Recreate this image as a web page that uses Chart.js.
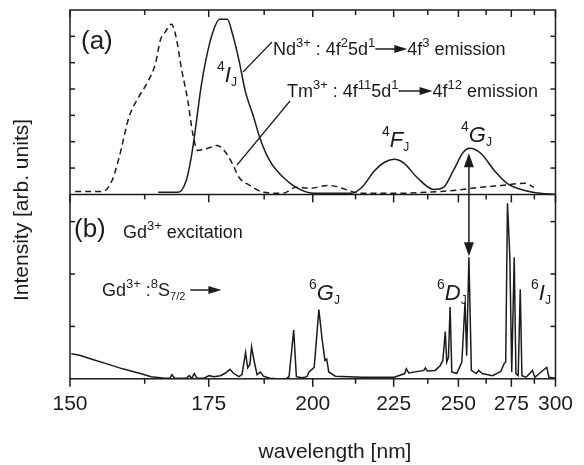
<!DOCTYPE html>
<html>
<head>
<meta charset="utf-8">
<script src="https://cdn.jsdelivr.net/npm/chart.js@4/dist/chart.umd.min.js"></script>
<style>
  html, body { margin: 0; padding: 0; background: #fff; }
  canvas { display: block; }
</style>
</head>
<body>
<canvas id="c" width="584" height="465"></canvas>
<script>
// x axis (wavelength, nm) - the axis is linear in photon energy (1/lambda)
const xTicks = [150, 175, 200, 225, 250, 275, 300];
const xMinorTicks = [162.5, 187.5, 212.5, 237.5, 262.5, 287.5];

// (a) Tm3+ 4f11 5d -> 4f12 emission (dashed)
const tmWl  = [150.8, 155.2, 156.8, 158.0, 159.7, 161.4, 162.9, 164.5, 165.4, 166.3, 167.5, 168.4, 169.4, 170.7, 171.7, 172.7, 174.8, 176.8, 178.3, 180.1, 181.6, 184.1, 187.4, 192.2, 195.5, 198.9, 204.4, 214.5, 225.2, 237.2, 247.9, 260.0, 270.0, 282.2, 287.2];
const tmInt = [0.11, 0.11, 0.53, 1.41, 2.93, 3.69, 4.22, 4.98, 5.86, 6.16, 6.46, 5.97, 4.83, 3.57, 2.32, 1.67, 1.75, 1.86, 1.67, 1.18, 0.65, 0.34, 0.08, 0.04, 0.27, 0.23, 0.34, 0.04, 0.04, 0.08, 0.15, 0.27, 0.34, 0.42, 0.27];

// (a) Nd3+ 4f2 5d -> 4f3 emission (solid)
const ndWl  = [165.0, 168.8, 170.4, 171.4, 172.3, 173.4, 174.4, 175.8, 177.3, 179.0, 180.1, 181.6, 183.0, 185.0, 186.4, 188.8, 192.2, 195.5, 200.5, 204.4, 211.1, 214.5, 218.6, 221.9, 225.2, 228.7, 233.4, 239.8, 243.8, 247.9, 252.1, 255.0, 260.0, 266.4, 272.8, 282.2, 290.8, 300];
const ndInt = [0.08, 0.08, 0.53, 1.41, 2.55, 4.07, 5.10, 6.12, 6.65, 6.65, 6.12, 5.10, 3.95, 2.93, 2.17, 1.29, 0.65, 0.27, 0.04, 0.04, 0.04, 0.27, 0.91, 1.22, 1.33, 1.18, 0.65, 0.19, 0.27, 0.91, 1.60, 1.75, 1.56, 0.91, 0.42, 0.15, 0.04, 0.0];

// (b) Gd3+ excitation spectrum
const gdWl  = [150.2, 151.5, 153.6, 155.8, 158.6, 161.4, 163.7, 166.2, 167.2, 167.6, 168.1, 170.4, 171.0, 171.5, 172.0, 172.6, 174.0, 175.1, 176.1, 177.5, 178.6, 179.6, 180.3, 181.6, 182.3, 183.1, 183.6, 184.1, 184.5, 185.1, 185.8, 186.6, 187.3, 188.9, 190.5, 192.9, 193.7, 194.9, 195.6, 197.1, 198.4, 199.0, 200.4, 201.7, 202.6, 203.4, 203.9, 204.5, 206.4, 214.4, 225.2, 228.9, 229.5, 230.4, 236.0, 236.6, 237.4, 240.4, 242.4, 243.5, 244.5, 245.1, 245.8, 246.5, 247.2, 249.3, 251.5, 252.9, 253.6, 254.6, 255.7, 257.9, 259.1, 260.6, 265.6, 269.6, 271.3, 272.1, 273.0, 274.2, 275.2, 276.5, 277.4, 278.6, 279.7, 280.6, 282.9, 286.4, 287.8, 294.7, 296.0, 300];
const gdInt = [0.48, 0.45, 0.37, 0.29, 0.19, 0.11, 0.04, 0.01, 0.01, 0.08, 0.01, 0.01, 0.06, 0.01, 0.10, 0.01, 0.01, 0.06, 0.04, 0.06, 0.11, 0.18, 0.11, 0.04, 0.08, 0.50, 0.21, 0.27, 0.61, 0.34, 0.08, 0.13, 0.05, 0.01, 0.0, 0.0, 0.04, 0.93, 0.04, 0.02, 0.04, 0.13, 0.22, 1.32, 0.76, 0.35, 0.38, 0.13, 0.05, 0.03, 0.03, 0.10, 0.19, 0.11, 0.16, 0.21, 0.15, 0.16, 0.25, 0.35, 0.90, 0.32, 0.41, 1.37, 0.13, 0.10, 0.32, 1.47, 0.44, 2.32, 0.16, 0.10, 0.16, 0.10, 0.06, 0.14, 0.29, 0.32, 3.35, 2.35, 0.13, 2.32, 0.10, 0.06, 1.71, 0.06, 0.03, 0.16, 0.03, 0.22, 0.03, 0.01];

// transition marked with the double arrow (nm), and where its heads sit
const arrowWl = 254.6;
const arrowTopA = 1.56;
const arrowTipB = 2.34;

const INK = '#1c1c1c';
const FONT = '"Liberation Sans", Arial, Helvetica, sans-serif';

// wavelength axis that is linear in 1/lambda
class ReciprocalScale extends Chart.LinearScale {
    getPixelForValue(value) {
        const a = 1 / this.min, b = 1 / this.max;
        return this.getPixelForDecimal((a - 1 / value) / (a - b));
    }
    getValueForPixel(pixel) {
        const a = 1 / this.min, b = 1 / this.max;
        return 1 / (a - this.getDecimalForPixel(pixel) * (a - b));
    }
}
ReciprocalScale.id = 'reciprocal';
ReciprocalScale.defaults = Chart.LinearScale.defaults;
Chart.register(ReciprocalScale);

const pts = (xs, ys) => xs.map((x, i) => ({ x: x, y: ys[i] }));

// text pieces: normal, superscript, subscript, italic, arrow
const N = t => ({ t: t, f: 18, dy: 0 });
const S = t => ({ t: t, f: 13, dy: -8 });
const B = t => ({ t: t, f: 11, dy: 4 });
const I = t => ({ t: t, f: 22, dy: 0, it: true });
const S2 = t => ({ t: t, f: 14, dy: -11 });
const B2 = t => ({ t: t, f: 12, dy: 4 });
const A = len => ({ arrow: len, dy: -6 });

function arrowHead(ctx, x, y, dx, dy, len, half) {
    // tip at (x,y), pointing along (dx,dy)
    ctx.beginPath();
    ctx.moveTo(x, y);
    ctx.lineTo(x - dx * len - dy * half, y - dy * len + dx * half);
    ctx.lineTo(x - dx * len + dy * half, y - dy * len - dx * half);
    ctx.closePath();
    ctx.fill();
}

function rich(ctx, x, y, parts) {
    for (const p of parts) {
        if (p.arrow) {
            const yy = y + p.dy;
            ctx.lineWidth = 1.5;
            ctx.beginPath(); ctx.moveTo(x, yy); ctx.lineTo(x + p.arrow - 8, yy); ctx.stroke();
            arrowHead(ctx, x + p.arrow, yy, 1, 0, 13, 4);
            x += p.arrow;
            continue;
        }
        ctx.font = (p.it ? 'italic ' : '') + p.f + 'px ' + FONT;
        ctx.fillText(p.t, x, y + p.dy);
        x += ctx.measureText(p.t).width;
    }
}

function seg(ctx, x1, y1, x2, y2) {
    ctx.beginPath(); ctx.moveTo(x1, y1); ctx.lineTo(x2, y2); ctx.stroke();
}

const framePlugin = {
    id: 'frame',
    afterDatasetsDraw(chart) {
        const { ctx, chartArea: ca } = chart;
        const { x, ya, yb } = chart.scales;
        const mid = ya.bottom;
        ctx.save();
        ctx.strokeStyle = INK;
        ctx.fillStyle = INK;
        ctx.lineWidth = 1.5;

        // frame of both panels
        ctx.strokeRect(ca.left, ca.top, ca.right - ca.left, ca.bottom - ca.top);
        seg(ctx, ca.left, mid, ca.right, mid);

        // x ticks: top (inward), panel boundary (into b), bottom (outward)
        xTicks.forEach(v => {
            const px = x.getPixelForValue(v);
            seg(ctx, px, ca.top, px, ca.top + 7);
            seg(ctx, px, mid, px, mid + 8);
            seg(ctx, px, ca.bottom, px, ca.bottom + 8);
        });
        xMinorTicks.forEach(v => {
            const px = x.getPixelForValue(v);
            seg(ctx, px, ca.top, px, ca.top + 5);
            seg(ctx, px, mid, px, mid + 5);
            seg(ctx, px, ca.bottom, px, ca.bottom + 5);
        });
        // y ticks, inward on both sides
        [[ya, [1, 2, 3, 4, 5, 6]], [yb, [1, 2, 3]]].forEach(([sc, vals]) => {
            vals.forEach(v => {
                const py = sc.getPixelForValue(v);
                seg(ctx, ca.left, py, ca.left + 5, py);
                seg(ctx, ca.right, py, ca.right - 5, py);
            });
        });

        // double arrow linking the 4G_J emission and the Gd3+ line
        const ax = x.getPixelForValue(arrowWl);
        const ay1 = ya.getPixelForValue(arrowTopA);
        const ay2 = yb.getPixelForValue(arrowTipB);
        seg(ctx, ax, ay1 + 10, ax, ay2 - 10);
        arrowHead(ctx, ax, ay1, 0, -1, 14, 5);
        arrowHead(ctx, ax, ay2, 0, 1, 14, 5);

        // leader lines
        ctx.lineWidth = 1.2;
        seg(ctx, 272, 42, 243, 72);
        seg(ctx, 290, 101, 237, 165);

        ctx.textBaseline = 'alphabetic';
        ctx.textAlign = 'left';
        ctx.font = '26px ' + FONT;
        ctx.fillText('(a)', 81, 49);
        ctx.fillText('(b)', 74, 237);

        rich(ctx, 273, 55, [N('Nd'), S('3+'), N(' : 4f'), S('2'), N('5d'), S('1'), A(32), N('4f'), S('3'), N(' emission')]);
        rich(ctx, 287, 97, [N('Tm'), S('3+'), N(' : 4f'), S('11'), N('5d'), S('1'), A(34), N('4f'), S('12'), N(' emission')]);
        rich(ctx, 123, 238, [N('Gd'), S('3+'), N(' excitation')]);
        rich(ctx, 102, 296, [N('Gd'), S('3+'), N(' :'), S('8'), N('S'), B('7/2'), N(' '), A(31)]);

        rich(ctx, 217, 82, [S2('4'), I('I'), B2('J')]);
        rich(ctx, 382, 147, [S2('4'), I('F'), B2('J')]);
        rich(ctx, 461, 142, [S2('4'), I('G'), B2('J')]);
        rich(ctx, 309, 300, [S2('6'), I('G'), B2('J')]);
        rich(ctx, 437, 300, [S2('6'), I('D'), B2('J')]);
        rich(ctx, 531, 300, [S2('6'), I('I'), B2('J')]);

        // axis titles
        ctx.font = '21px ' + FONT;
        ctx.textAlign = 'center';
        ctx.fillText('wavelength [nm]', 335, 458);
        ctx.translate(28, 210);
        ctx.rotate(-Math.PI / 2);
        ctx.fillText('Intensity [arb. units]', 0, 0);
        ctx.restore();
    }
};

new Chart(document.getElementById('c'), {
    type: 'line',
    data: {
        datasets: [
            {
                label: 'Tm3+',
                data: pts(tmWl, tmInt),
                yAxisID: 'ya',
                borderColor: INK,
                borderWidth: 1.5,
                borderDash: [6, 4],
                pointRadius: 0,
                cubicInterpolationMode: 'monotone',
                fill: false
            },
            {
                label: 'Nd3+',
                data: pts(ndWl, ndInt),
                yAxisID: 'ya',
                borderColor: INK,
                borderWidth: 1.5,
                pointRadius: 0,
                cubicInterpolationMode: 'monotone',
                fill: false
            },
            {
                label: 'Gd3+',
                data: pts(gdWl, gdInt),
                yAxisID: 'yb',
                borderColor: INK,
                borderWidth: 1.5,
                pointRadius: 0,
                tension: 0,
                fill: false
            }
        ]
    },
    options: {
        responsive: false,
        animation: false,
        events: [],
        layout: { padding: { left: 70, right: 19, top: 10, bottom: 37 } },
        plugins: { legend: { display: false }, tooltip: { enabled: false } },
        scales: {
            x: {
                type: 'reciprocal',
                min: 150,
                max: 300,
                position: 'bottom',
                afterBuildTicks: axis => { axis.ticks = xTicks.map(v => ({ value: v })); },
                // tick marks are drawn by the frame plugin; tickLength only spaces the labels
                grid: { display: false, drawTicks: true, tickLength: 2 },
                border: { display: false },
                ticks: {
                    autoSkip: false,
                    maxRotation: 0,
                    padding: 11,
                    color: INK,
                    font: { family: FONT, size: 21 },
                    callback: v => String(v)
                }
            },
            // listed first -> placed at the bottom of the stack
            yb: {
                type: 'linear',
                position: 'left',
                stack: 'panels',
                stackWeight: 1,
                min: 0,
                max: 3.52,
                display: false
            },
            ya: {
                type: 'linear',
                position: 'left',
                stack: 'panels',
                stackWeight: 1,
                min: 0,
                max: 7,
                display: false
            }
        }
    },
    plugins: [framePlugin]
});
</script>
</body>
</html>
